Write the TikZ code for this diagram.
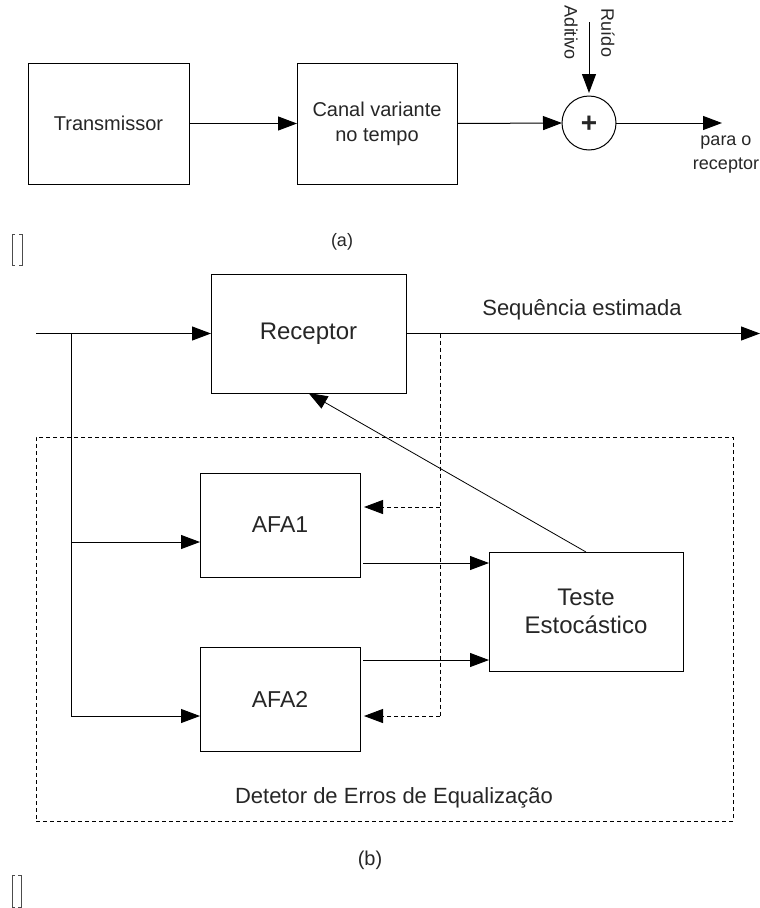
\documentclass[tikz,border=0pt]{standalone}
\usepackage{fontspec}
\setmainfont{Liberation Sans}
\usetikzlibrary{arrows.meta,calc}
\begin{document}
\begin{tikzpicture}[x=1pt,y=-1pt,
  line width=1pt,
  txt/.style={text=black!85, inner sep=0pt, outer sep=0pt},
  blk/.style={draw, rectangle, inner sep=0pt, outer sep=0pt, text=black!85, align=center},
  arr/.style={-{Triangle[length=19pt,width=14pt]}},
  dsh/.style={dash pattern=on 4pt off 3pt, line width=0.9pt},
  brk/.style={line width=0.8pt, draw=black!70}
]
\useasboundingbox (0,0) rectangle (760,908);

% ---------- (a) ----------
\node[blk, minimum width=161pt, minimum height=121pt, font=\fontsize{20}{24}\selectfont] (tx) at (108.5,123.5) {Transmissor};
\node[blk, minimum width=160pt, minimum height=121pt, font=\fontsize{20}{25}\selectfont] (canal) at (377,123.5) {Canal variante\\no tempo};
\node[draw, circle, minimum size=54pt, inner sep=0pt, outer sep=0pt] (sum) at (589,123) {};
\node[txt, font=\bfseries\fontsize{28}{28}\selectfont] (plus) at (589,124) {+};
\coordinate (noise) at (589,22);
\coordinate (outa) at (722,123);
\node[txt, rotate=-90, font=\fontsize{18}{20}\selectfont] (ruido) at (608,33) {Ruído};
\node[txt, rotate=-90, font=\fontsize{18}{20}\selectfont] (aditivo) at (571,33) {Aditivo};
\node[txt, align=center, font=\fontsize{18}{24}\selectfont] (para) at (726,155) {para o\\receptor};
\node[txt, font=\fontsize{18}{20}\selectfont] (la) at (342,242) {(a)};

\draw[arr] (tx.east) -- (canal.west);
\draw[arr] (canal.east) -- (sum.west);
\draw[arr, shorten >=3pt] (noise) -- (sum.north);
\draw[arr] (sum.east) -- (outa);

% brackets
\draw[brk] (15,234) -- (12,234) -- (12,265) -- (15,265);
\draw[brk] (19,234) -- (22,234) -- (22,265) -- (19,265);
\draw[brk] (15,875) -- (12,875) -- (12,907) -- (15,907);
\draw[brk] (18,875) -- (21,875) -- (21,907) -- (18,907);

% ---------- (b) ----------
\node[draw, dsh, rectangle, minimum width=697pt, minimum height=384pt, inner sep=0pt, outer sep=0pt] (det) at (384.5,629) {};
\node[txt, font=\fontsize{22}{24}\selectfont] (detlab) at (394,798) {Detetor de Erros de Equalização};

\node[blk, minimum width=195pt, minimum height=119pt, font=\fontsize{24}{28}\selectfont] (rec) at (308.5,333.5) {Receptor};
\node[blk, minimum width=160pt, minimum height=104pt, font=\fontsize{23}{28}\selectfont] (afa1) at (280,525) {AFA1};
\node[blk, minimum width=160pt, minimum height=104pt, font=\fontsize{23}{28}\selectfont] (afa2) at (280,699) {AFA2};
\node[blk, minimum width=194pt, minimum height=119pt, font=\fontsize{24}{28}\selectfont] (teste) at (586,611.5) {Teste\\Estocástico};

\coordinate (in) at (36,333.5);
\coordinate (br) at (71,333.5);
\coordinate (brend) at (71,716);
\coordinate (seqend) at (760,333.5);
\coordinate (tap) at (440,333.5);
\coordinate (tapend) at (440,716);
\coordinate (tap1) at (440,507);
\coordinate (a1in) at ([yshift=-17pt]afa1.west);
\coordinate (a2in) at ([yshift=-17pt]afa2.west);
\coordinate (a1out) at ([yshift=-38pt]afa1.east);
\coordinate (a2out) at ([yshift=39pt]afa2.east);
\node[txt, font=\fontsize{22}{24}\selectfont] (seq) at (582,310) {Sequência estimada};
\node[txt, font=\fontsize{20}{24}\selectfont] (lb) at (370,860) {(b)};

\draw[arr] (in) -- (rec.west);
\draw[arr] (rec.east) -- (seqend);
\draw (br) -- (brend);
\draw[arr] (br |- a1in) -- (a1in);
\draw[arr] (brend) -- (a2in);

\draw[dsh] (tap) -- (tapend);
\draw[dsh, arr, shorten >=4pt] (tap1) -- (tap1 -| afa1.east);
\draw[dsh, arr, shorten >=4pt] (tapend) -- (tapend -| afa2.east);

\draw[arr, shorten <=3pt] (a1out) -- (a1out -| teste.west);
\draw[arr, shorten <=3pt] (a2out) -- (a2out -| teste.west);

\draw[arr, line width=0.8pt] (teste.north) -- (rec.south);
\end{tikzpicture}
\end{document}
